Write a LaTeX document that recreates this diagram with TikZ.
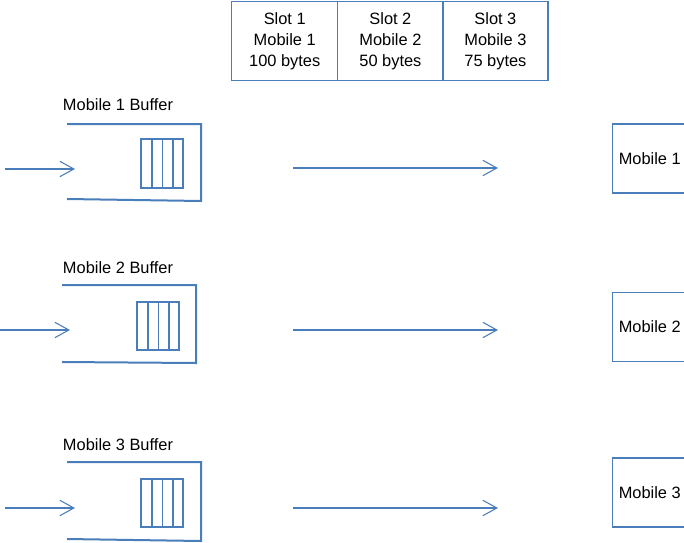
\documentclass[tikz,border=0pt]{standalone}
\usepackage{fontspec}
\setmainfont{Liberation Sans}
\usetikzlibrary{arrows.meta}
\definecolor{ln}{HTML}{4A7EBB}
\begin{document}
\begin{tikzpicture}[x=0.75pt,y=-0.75pt,
  txt/.style={font=\fontsize{12.3}{15.4}\selectfont},
  lbl/.style={txt,inner sep=0pt},
  slot/.style={txt,draw=ln,line width=1.1pt,minimum width=79.5pt,minimum height=59.25pt,align=center,inner sep=0pt,anchor=north west},
  buf/.style={draw=ln,line width=1.5pt},
  stackbox/.style={draw=ln,line width=1pt},
  arr/.style={draw=ln,line width=0.8pt,-{Straight Barb[length=10.5pt,width=11.5pt]}},
  mob/.style={txt,draw=ln,line width=1.1pt,minimum width=55.5pt,minimum height=51.75pt,anchor=west,inner sep=0pt}]
\useasboundingbox (0,0) rectangle (684,542);
\clip (0,0) rectangle (684,542);
% slot table
\node[slot] (s1) at (231,1) {Slot 1\\Mobile 1\\100 bytes};
\node[slot,minimum width=79pt] (s2) at (337,1) {Slot 2\\Mobile 2\\50 bytes};
\node[slot,minimum width=79pt] (s3) at (442,1) {Slot 3\\Mobile 3\\75 bytes};
% buffer 1
\node[lbl] (b1) at (118,105) {Mobile 1 Buffer};
\draw[buf] (67,124) -- (201,124) -- (201,201) -- (67,199);
\draw[stackbox] (141,139) rectangle (183,188);
\foreach \x in {152,162.5,173} \draw[stackbox] (\x,139) -- (\x,188);
\coordinate (i1s) at (5,169); \coordinate (i1e) at (75,169);
\draw[arr] (i1s) -- (i1e);
\coordinate (o1s) at (293,168); \coordinate (o1e) at (498,168);
\draw[arr] (o1s) -- (o1e);
\node[mob] (m1) at (612,158.5) {Mobile 1};
% buffer 2
\node[lbl] (b2) at (118,268) {Mobile 2 Buffer};
\draw[buf] (62,285) -- (196,285) -- (196,363) -- (62,362);
\draw[stackbox] (137,302) rectangle (179,350);
\foreach \x in {148,158.5,169} \draw[stackbox] (\x,302) -- (\x,350);
\coordinate (i2s) at (0,330); \coordinate (i2e) at (70,330);
\draw[arr] (i2s) -- (i2e);
\coordinate (o2s) at (293,330); \coordinate (o2e) at (498,330);
\draw[arr] (o2s) -- (o2e);
\node[mob] (m2) at (612,327) {Mobile 2};
% buffer 3
\node[lbl] (b3) at (118,445) {Mobile 3 Buffer};
\draw[buf] (67,462) -- (201,462) -- (201,541) -- (67,539);
\draw[stackbox] (141,479) rectangle (183,527);
\foreach \x in {152,162.5,173} \draw[stackbox] (\x,479) -- (\x,527);
\coordinate (i3s) at (5,508); \coordinate (i3e) at (75,508);
\draw[arr] (i3s) -- (i3e);
\coordinate (o3s) at (293,508); \coordinate (o3e) at (498,508);
\draw[arr] (o3s) -- (o3e);
\node[mob] (m3) at (612,492.5) {Mobile 3};
\end{tikzpicture}
\end{document}
